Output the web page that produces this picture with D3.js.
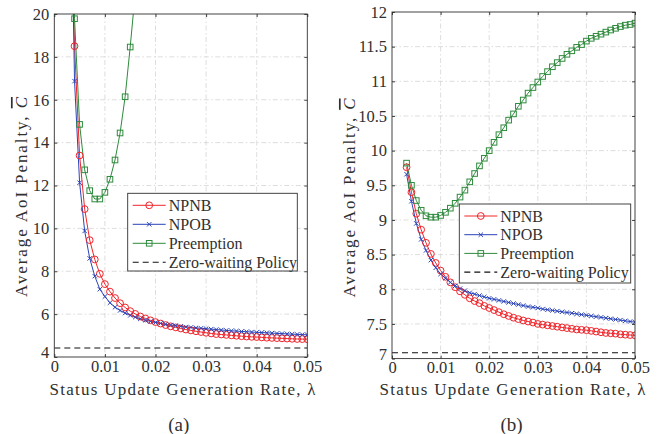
<!DOCTYPE html>
<html><head><meta charset="utf-8">
<script src="https://cdn.jsdelivr.net/npm/d3@7/dist/d3.min.js"></script>
<style>
html,body{margin:0;padding:0;background:#fff;}
</style></head>
<body><svg id="chart" width="658" height="434"></svg>
<script>
const FONT = "'Liberation Serif', 'Times New Roman', serif";
// ---------- data ----------
const lambda = [0.003,0.004,0.005,0.006,0.007,0.008,0.009,0.010,0.011,0.012,0.013,0.014,0.015,0.016,0.017,0.018,0.019,0.020,
  0.021,0.022,0.023,0.024,0.025,0.026,0.027,0.028,0.029,0.030,0.031,0.032,0.033,0.034,0.035,0.036,0.037,0.038,0.039,0.040,
  0.041,0.042,0.043,0.044,0.045,0.046,0.047,0.048,0.049,0.050];
const lambdaPreA = [0.003,0.004,0.005,0.006,0.007,0.008,0.009,0.010,0.011,0.012,0.013,0.014,0.015,0.016,0.017];

// panel (a)
const npnbA = [28,18.5,13.4,10.9,9.45,8.55,7.88,7.40,7.05,6.75,6.51,6.31,6.14,6.01,5.89,5.80,5.71,5.63,
  5.56,5.49,5.43,5.38,5.33,5.28,5.24,5.20,5.165,5.13,5.10,5.07,5.05,5.03,5.01,4.99,4.97,4.955,4.94,4.93,
  4.915,4.90,4.89,4.88,4.87,4.86,4.85,4.84,4.835,4.83];
const npobA = [30,16.87,12.13,9.88,8.6,7.77,7.16,6.82,6.53,6.32,6.17,6.05,5.94,5.86,5.78,5.72,5.66,5.61,
  5.57,5.53,5.49,5.46,5.43,5.40,5.38,5.36,5.34,5.32,5.30,5.28,5.26,5.24,5.22,5.21,5.19,5.18,5.165,5.15,
  5.14,5.13,5.115,5.10,5.09,5.08,5.065,5.055,5.045,5.035];
const preA = [32,19.78,14.85,12.73,11.76,11.37,11.37,11.68,12.29,13.19,14.45,16.14,18.46,21.0,24.2];
const zeroA = 4.42;

// panel (b)
const npnbB = [9.76,9.40,9.09,8.86,8.67,8.51,8.38,8.27,8.18,8.10,8.03,7.97,7.92,7.87,7.83,7.80,7.76,7.73,
  7.70,7.67,7.64,7.615,7.59,7.57,7.55,7.535,7.52,7.50,7.49,7.48,7.47,7.46,7.45,7.44,7.43,7.42,7.415,7.41,
  7.40,7.39,7.38,7.37,7.365,7.36,7.35,7.345,7.34,7.335];
const npobB = [9.66,9.27,8.95,8.72,8.56,8.42,8.31,8.22,8.16,8.10,8.05,8.01,7.98,7.95,7.93,7.91,7.89,7.87,
  7.855,7.84,7.825,7.81,7.795,7.78,7.765,7.75,7.74,7.73,7.715,7.705,7.695,7.685,7.675,7.665,7.655,7.645,7.635,7.625,
  7.615,7.605,7.595,7.585,7.575,7.565,7.555,7.545,7.535,7.525];
const preB = [9.82,9.50,9.28,9.14,9.06,9.04,9.04,9.065,9.11,9.17,9.24,9.33,9.43,9.55,9.67,9.78,9.89,10.0,
  10.12,10.23,10.33,10.44,10.53,10.64,10.73,10.83,10.91,10.99,11.07,11.14,11.21,11.27,11.33,11.39,11.44,11.49,11.53,11.58,
  11.62,11.65,11.68,11.71,11.74,11.765,11.79,11.81,11.82,11.84];
const zeroB = 7.085;

const xTicks = [0,0.01,0.02,0.03,0.04,0.05];
const xTickLabels = ["0","0.01","0.02","0.03","0.04","0.05"];
const yTicksA = [4,6,8,10,12,14,16,18,20];
const yTicksB = [7,7.5,8,8.5,9,9.5,10,10.5,11,11.5,12];
const legendLabels = ["NPNB","NPOB","Preemption","Zero-waiting Policy"];
const xTitle = "Status Update Generation Rate, \u03BB";
const yTitle = "Average AoI Penalty, ";
const captions = ["(a)","(b)"];

// ---------- styles ----------
const RED = "#f0242a", BLUE = "#2a44b8", GREEN = "#2e8a3c";
const TXT = "#303030";

const svg = d3.select("#chart");
function serif(sel){ return sel.style("font-family", FONT); }

function marker(g, type, x, y, color){
  if(type==="circle"){
    g.append("circle").attr("cx",x).attr("cy",y).attr("r",3.4)
      .attr("fill","none").attr("stroke",color).attr("stroke-width",1);
  } else if(type==="square"){
    const s=2.8;
    g.append("rect").attr("x",x-s).attr("y",y-s).attr("width",2*s).attr("height",2*s)
      .attr("fill","none").attr("stroke",color).attr("stroke-width",1);
  } else if(type==="x"){
    const s=2.2;
    g.append("path").attr("d",`M${x-s},${y-s}L${x+s},${y+s}M${x-s},${y+s}L${x+s},${y-s}`)
      .attr("stroke",color).attr("stroke-width",1).attr("fill","none");
  }
}

function panel(cfg){
  const {id,left,right,top,bottom,yDomain,yTicks,series,zero,legend,caption,yLabel,xLabel} = cfg;
  const x = d3.scaleLinear().domain([0,0.05]).range([left,right]);
  const y = d3.scaleLinear().domain(yDomain).range([bottom,top]);
  const g = svg.append("g");

  svg.append("clipPath").attr("id","clip"+id).append("rect")
    .attr("x",left).attr("y",top).attr("width",right-left).attr("height",bottom-top);

  // grid
  const grid = g.append("g").attr("stroke","#d4d4d4").attr("stroke-width",0.8)
    .attr("stroke-dasharray","5,2.5,1.5,2.5");
  xTicks.forEach(t=>{ if(t>0 && t<0.05) grid.append("line").attr("x1",x(t)).attr("x2",x(t)).attr("y1",top).attr("y2",bottom);});
  yTicks.forEach(t=>{ if(t>yDomain[0] && t<yDomain[1]) grid.append("line").attr("x1",left).attr("x2",right).attr("y1",y(t)).attr("y2",y(t));});

  // data
  const pg = g.append("g").attr("clip-path",`url(#clip${id})`);
  pg.append("line").attr("x1",left).attr("x2",right).attr("y1",y(zero)).attr("y2",y(zero))
    .attr("stroke","#111").attr("stroke-width",1.1).attr("stroke-dasharray","6,4");
  series.forEach(s=>{
    const line = d3.line().x((d,i)=>x(s.xs[i])).y(d=>y(d));
    pg.append("path").datum(s.ys).attr("d",line).attr("fill","none")
      .attr("stroke",s.color).attr("stroke-width",1);
  });
  series.forEach(s=>{
    s.ys.forEach((v,i)=>{ marker(pg,s.marker,x(s.xs[i]),y(v),s.color); });
  });

  // axes box
  const ax = g.append("g");
  ax.append("rect").attr("x",left).attr("y",top).attr("width",right-left).attr("height",bottom-top)
    .attr("fill","none").attr("stroke",TXT).attr("stroke-width",0.9);
  const tl = 3;
  const bottomAxis = d3.axisBottom(x).tickValues(xTicks).tickFormat((d,i)=>xTickLabels[i]).tickSizeInner(-tl).tickSizeOuter(0).tickPadding(3);
  const ab = ax.append("g").attr("transform",`translate(0,${bottom})`).call(bottomAxis);
  const topAxis = d3.axisTop(x).tickValues(xTicks).tickFormat("").tickSizeInner(-tl).tickSizeOuter(0);
  const at = ax.append("g").attr("transform",`translate(0,${top})`).call(topAxis);
  const leftAxis = d3.axisLeft(y).tickValues(yTicks).tickFormat(d=>String(d)).tickSizeInner(-tl).tickSizeOuter(0).tickPadding(5);
  const al = ax.append("g").attr("transform",`translate(${left},0)`).call(leftAxis);
  const rightAxis = d3.axisRight(y).tickValues(yTicks).tickFormat("").tickSizeInner(-tl).tickSizeOuter(0);
  const ar = ax.append("g").attr("transform",`translate(${right},0)`).call(rightAxis);
  [ab,at,al,ar].forEach(a=>{
    a.attr("font-size",null).attr("font-family",null);
    a.select(".domain").remove();
    a.selectAll(".tick line").attr("stroke",TXT).attr("stroke-width",0.9);
    serif(a.selectAll("text")).style("font-size","16.5px").attr("fill",TXT);
  });
  ab.selectAll("text").attr("dy","0.71em");
  al.selectAll(".tick").filter(d=>d===yDomain[0]).select("text").attr("dy","0.05em");

  // axis titles
  serif(g.append("text")).attr("x",xLabel.cx).attr("y",xLabel.cy).attr("dy","0.35em")
    .attr("text-anchor","middle").style("font-size","17px").attr("fill",TXT)
    .attr("textLength",xLabel.len).attr("lengthAdjust","spacing").text(xTitle);
  const yt = serif(g.append("text")).attr("transform",`translate(${yLabel.cx},${yLabel.cy}) rotate(-90)`)
    .attr("dy","0.35em").attr("text-anchor","middle").style("font-size","17px").attr("fill",TXT)
    .attr("textLength",yLabel.len).attr("lengthAdjust","spacing");
  yt.append("tspan").text(yTitle);
  yt.append("tspan").attr("font-style","italic").style("text-decoration","overline").text("C");

  // legend
  const lg = g.append("g");
  lg.append("rect").attr("x",legend.x).attr("y",legend.y).attr("width",legend.w).attr("height",legend.h)
    .attr("fill","#fff").attr("stroke",TXT).attr("stroke-width",0.9);
  const items = [
    {color:RED, marker:"circle"},{color:BLUE, marker:"x"},{color:GREEN, marker:"square"},{color:"#111", marker:null, dash:true}
  ];
  items.forEach((it,i)=>{
    const yy = legend.y + 12 + i*legend.step;
    const x1 = legend.x+5, x2 = legend.x+38;
    lg.append("line").attr("x1",x1).attr("x2",x2).attr("y1",yy).attr("y2",yy)
      .attr("stroke",it.color).attr("stroke-width",it.dash?1.1:1)
      .attr("stroke-dasharray",it.dash?"6,4":null);
    if(it.marker) marker(lg,it.marker,(x1+x2)/2,yy,it.color);
    serif(lg.append("text")).attr("x",x2+3).attr("y",yy).attr("dy","0.35em").style("font-size","16px").attr("fill",TXT).text(legendLabels[i]);
  });

  // caption
  serif(g.append("text")).attr("x",(left+right)/2-2).attr("y",424).attr("dy","0.35em")
    .attr("text-anchor","middle").style("font-size","19px").attr("fill",TXT).text(caption);
}

panel({
  id:"a", left:54.3, right:307.3, top:14, bottom:357, yDomain:[4,20], yTicks:yTicksA,
  series:[
    {xs:lambda, ys:npnbA, color:RED, marker:"circle"},
    {xs:lambda, ys:npobA, color:BLUE, marker:"x"},
    {xs:lambdaPreA, ys:preA, color:GREEN, marker:"square"}
  ],
  zero:zeroA, legend:{x:127.7,y:193.3,w:169.6,h:77.7,step:19}, caption:captions[0],
  yLabel:{cx:21,cy:197,len:200}, xLabel:{cx:182.5,cy:389,len:266}
});
panel({
  id:"b", left:392, right:635, top:12, bottom:358.6, yDomain:[7,12], yTicks:yTicksB,
  series:[
    {xs:lambda, ys:npnbB, color:RED, marker:"circle"},
    {xs:lambda, ys:npobB, color:BLUE, marker:"x"},
    {xs:lambda, ys:preB, color:GREEN, marker:"square"}
  ],
  zero:zeroB, legend:{x:459.3,y:204,w:171.4,h:79,step:18.7}, caption:captions[1],
  yLabel:{cx:349,cy:198,len:199}, xLabel:{cx:512.5,cy:389,len:266}
});
</script></body></html>
